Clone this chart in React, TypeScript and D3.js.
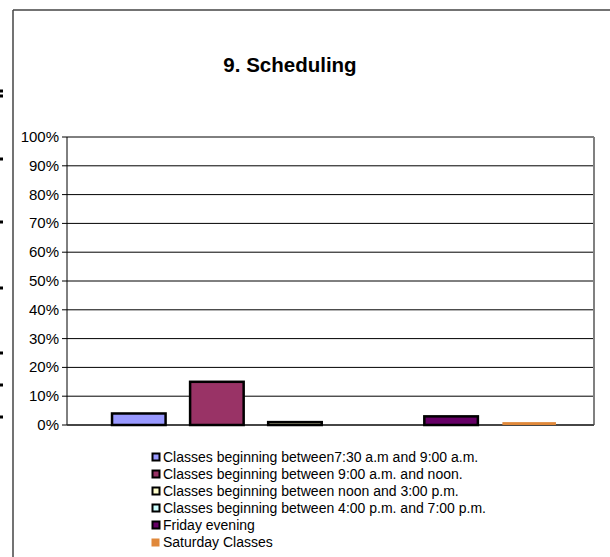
import React from "react";
import * as d3 from "d3";

const seriesNames = [
  "Classes beginning between7:30 a.m and 9:00 a.m.",
  "Classes beginning between 9:00 a.m. and noon.",
  "Classes beginning between noon and 3:00 p.m.",
  "Classes beginning between 4:00 p.m. and 7:00 p.m.",
  "Friday evening",
  "Saturday Classes",
];
const seriesValues = [0.04, 0.15, 0.01, 0, 0.03, 0.01];
const seriesColors = ["#9999FF", "#993366", "#FFFFCC", "#CCFFFF", "#660066", "#E0883A"];
const seriesBorder = [true, true, true, true, true, false];
const yTicks = [0, 0.1, 0.2, 0.3, 0.4, 0.5, 0.6, 0.7, 0.8, 0.9, 1.0];
const sideMarks = [91, 96, 159, 222, 288, 353, 385, 417];

export default function App() {
  const W = 610, H = 557;
  const left = 67, right = 594, top = 137, bottom = 425;
  const y = d3.scaleLinear().domain([0, 1]).range([bottom, top]);
  const x = d3
    .scaleBand<number>()
    .domain(d3.range(seriesValues.length))
    .range([left, right])
    .paddingInner(0.314)
    .paddingOuter(0.532)
    .align(0.542);
  const fmt = d3.format(".0%");
  const font = "'Liberation Sans', Arial, sans-serif";
  return (
    <svg width={W} height={H} style={{ position: "absolute", left: 0, top: 0 }} fontFamily={font}>
      <rect x={0} y={0} width={W} height={H} fill="#fff" />
      {/* outer chart frame */}
      <line x1={13} y1={10} x2={W} y2={10} stroke="#444" strokeWidth={1.5} />
      <line x1={13} y1={10} x2={13} y2={H} stroke="#444" strokeWidth={1.5} />
      {sideMarks.map((m, i) => (
        <rect key={i} x={0} y={m - 1.5} width={3} height={3} fill="#000" />
      ))}
      <text x={290} y={72} textAnchor="middle" fontSize={20.5} fontWeight="bold">
        9. Scheduling
      </text>
      {/* gridlines */}
      {yTicks.map((t, i) => (
        <g key={i}>
          <line x1={left - 5} x2={right} y1={y(t)} y2={y(t)} stroke="#000" strokeWidth={1} />
          <text x={left - 8} y={y(t) + 5} textAnchor="end" fontSize={15}>
            {fmt(t)}
          </text>
        </g>
      ))}
      <line x1={left} x2={left} y1={top} y2={bottom} stroke="#000" strokeWidth={1} />
      <line x1={right} x2={right} y1={top} y2={bottom} stroke="#808080" strokeWidth={2} />
      <line x1={left} x2={right} y1={bottom} y2={bottom} stroke="#333" strokeWidth={1.5} />
      {/* bars */}
      {seriesValues.map((v, i) =>
        v > 0 ? (
          <rect
            key={i}
            x={x(i)}
            y={y(v)}
            width={x.bandwidth()}
            height={bottom - y(v)}
            fill={seriesColors[i]}
            stroke={seriesBorder[i] ? "#000" : "none"}
            strokeWidth={2.5}
          />
        ) : null
      )}
      {/* legend */}
      {seriesNames.map((n, i) => {
        const ly = 457 + i * 17;
        return (
          <g key={i}>
            {seriesBorder[i] ? (
              <rect x={152.5} y={ly - 3.5} width={7} height={7} fill={seriesColors[i]} stroke="#000" strokeWidth={2} />
            ) : (
              <rect x={151.5} y={ly - 3.5} width={8} height={8} fill={seriesColors[i]} />
            )}
            <text x={163} y={ly + 5} fontSize={14}>
              {n}
            </text>
          </g>
        );
      })}
    </svg>
  );
}
